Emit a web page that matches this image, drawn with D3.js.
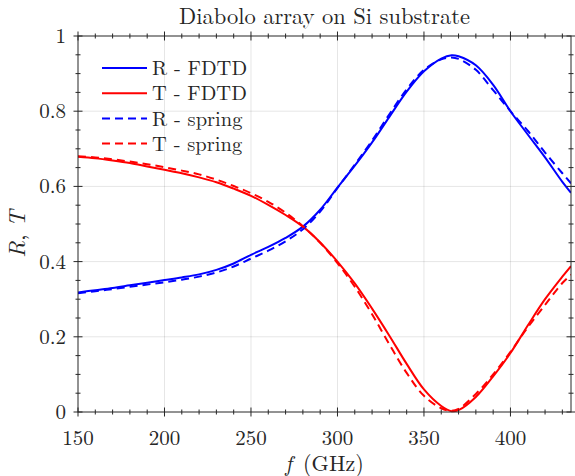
<!DOCTYPE html>
<html>
<head>
<meta charset="utf-8">
<script src="https://cdn.jsdelivr.net/npm/d3@7"></script>
<style>
  body { margin: 0; background: #fff; }
  text { font-family: "Latin Modern Roman", "CMU Serif", "Liberation Serif", serif; fill: #262626; }
  .grid line { stroke: #000; stroke-opacity: 0.1; }
  .frame { fill: none; stroke: #262626; stroke-width: 1; }
  .tick-mark { stroke: #262626; stroke-width: 1; }
</style>
</head>
<body>
<div id="container"></div>
<script>
const w = 575;
const h = 476;
const margin = { left: 78, right: 4, top: 36, bottom: 64 };

// Data
const freq    = [150, 160, 170, 180, 190, 200, 210, 220, 230, 240, 250, 260, 270, 280, 290, 300, 310, 320, 330, 340, 350, 360, 366, 370, 380, 390, 400, 410, 420, 430, 435];
const rFdtd   = [0.318, 0.324, 0.330, 0.337, 0.344, 0.351, 0.358, 0.366, 0.378, 0.395, 0.418, 0.439, 0.463, 0.493, 0.538, 0.597, 0.655, 0.717, 0.785, 0.852, 0.906, 0.940, 0.949, 0.946, 0.922, 0.870, 0.800, 0.738, 0.677, 0.612, 0.583];
const tFdtd   = [0.679, 0.675, 0.669, 0.662, 0.653, 0.644, 0.635, 0.624, 0.611, 0.594, 0.575, 0.551, 0.524, 0.493, 0.451, 0.400, 0.342, 0.275, 0.203, 0.128, 0.060, 0.016, 0.002, 0.005, 0.040, 0.095, 0.157, 0.230, 0.300, 0.360, 0.388];
const rSpring = [0.316, 0.321, 0.327, 0.333, 0.339, 0.345, 0.352, 0.360, 0.371, 0.387, 0.408, 0.429, 0.454, 0.486, 0.533, 0.596, 0.658, 0.722, 0.792, 0.858, 0.910, 0.938, 0.943, 0.939, 0.910, 0.856, 0.800, 0.748, 0.690, 0.635, 0.608];
const tSpring = [0.680, 0.677, 0.672, 0.666, 0.659, 0.651, 0.642, 0.632, 0.618, 0.601, 0.582, 0.559, 0.530, 0.494, 0.450, 0.396, 0.333, 0.260, 0.180, 0.104, 0.043, 0.010, 0.003, 0.008, 0.048, 0.100, 0.160, 0.225, 0.285, 0.343, 0.365];

const xTicks = [150, 200, 250, 300, 350, 400];
const yTicks = [0, 0.2, 0.4, 0.6, 0.8, 1];

const series = [
  { name: 'R - FDTD',   values: rFdtd,   color: '#0000ff', dash: null },
  { name: 'T - FDTD',   values: tFdtd,   color: '#ff0000', dash: null },
  { name: 'R - spring', values: rSpring, color: '#0000ff', dash: '8,5' },
  { name: 'T - spring', values: tSpring, color: '#ff0000', dash: '8,5' }
];

const svg = d3.select('#container')
              .append('svg')
              .attr('width', w)
              .attr('height', h);

const xScale = d3.scaleLinear()
                 .domain([150, 435])
                 .range([margin.left, w - margin.right]);

const yScale = d3.scaleLinear()
                 .domain([0, 1])
                 .range([h - margin.bottom, margin.top]);

const x0 = xScale.range()[0], x1 = xScale.range()[1];
const y0 = yScale.range()[0], y1 = yScale.range()[1];

// Grid
const grid = svg.append('g').attr('class', 'grid');
grid.selectAll('.gx')
    .data(xTicks.slice(1))
    .enter()
    .append('line')
    .attr('x1', d => xScale(d)).attr('x2', d => xScale(d))
    .attr('y1', y0).attr('y2', y1);
grid.selectAll('.gy')
    .data(yTicks.slice(1, -1))
    .enter()
    .append('line')
    .attr('x1', x0).attr('x2', x1)
    .attr('y1', d => yScale(d)).attr('y2', d => yScale(d));

// Curves
svg.append('clipPath')
   .attr('id', 'clip')
   .append('rect')
   .attr('x', x0).attr('y', y1 - 2)
   .attr('width', x1 - x0).attr('height', y0 - y1 + 4);

const line = d3.line()
               .x((d, i) => xScale(freq[i]))
               .y(d => yScale(d))
               .curve(d3.curveCatmullRom.alpha(0.5));

svg.append('g')
   .attr('clip-path', 'url(#clip)')
   .selectAll('path')
   .data(series)
   .enter()
   .append('path')
   .attr('d', d => line(d.values))
   .attr('fill', 'none')
   .attr('stroke', d => d.color)
   .attr('stroke-width', 2)
   .attr('stroke-dasharray', d => d.dash);

createFrame(svg);
createLabels(svg);
createLegend(svg);

function createFrame(svg) {
  const ticks = svg.append('g');
  const minorX = d3.range(150, 436, 10);
  const minorY = d3.range(0, 1.001, 0.05);

  // ticks on all four sides, drawn both in and out
  minorX.forEach(v => {
    const len = v % 50 === 0 ? 4.5 : 2.5;
    [y0, y1].forEach(yy => {
      ticks.append('line').attr('class', 'tick-mark')
           .attr('x1', xScale(v)).attr('x2', xScale(v))
           .attr('y1', yy - len).attr('y2', yy + len);
    });
  });
  minorY.forEach(v => {
    const major = Math.abs(v * 5 - Math.round(v * 5)) < 1e-6;
    const len = major ? 4.5 : 2.5;
    [x0, x1].forEach(xx => {
      ticks.append('line').attr('class', 'tick-mark')
           .attr('x1', xx - len).attr('x2', xx + len)
           .attr('y1', yScale(v)).attr('y2', yScale(v));
    });
  });

  svg.append('rect')
     .attr('class', 'frame')
     .attr('x', x0).attr('y', y1)
     .attr('width', x1 - x0).attr('height', y0 - y1);

  svg.selectAll('.xlab')
     .data(xTicks)
     .enter()
     .append('text')
     .attr('x', d => xScale(d))
     .attr('y', y0 + 33)
     .attr('text-anchor', 'middle')
     .style('font-size', '21px')
     .text(d => d);

  svg.selectAll('.ylab')
     .data(yTicks)
     .enter()
     .append('text')
     .attr('x', x0 - 12)
     .attr('y', d => yScale(d))
     .attr('dy', '0.33em')
     .attr('text-anchor', 'end')
     .style('font-size', '21px')
     .text(d => d);
}

function createLabels(svg) {
  svg.append('text')
     .attr('x', (x0 + x1) / 2)
     .attr('y', 24)
     .attr('text-anchor', 'middle')
     .style('font-size', '22.5px')
     .text('Diabolo array on Si substrate');

  const xl = svg.append('text')
                .attr('x', (x0 + x1) / 2)
                .attr('y', 471)
                .attr('text-anchor', 'middle')
                .style('font-size', '22px');
  xl.append('tspan').style('font-style', 'italic').text('f');
  xl.append('tspan').text('\u00a0(GHz)');

  const yl = svg.append('text')
                .attr('transform', `translate(25, 234) rotate(-90)`)
                .attr('text-anchor', 'middle')
                .style('font-size', '23px');
  yl.append('tspan').style('font-style', 'italic').text('R');
  yl.append('tspan').text(', ');
  yl.append('tspan').style('font-style', 'italic').text('T');
}

function createLegend(svg) {
  const legend = svg.append('g')
                    .attr('id', 'legend')
                    .selectAll('.legend-label')
                    .data(series)
                    .enter()
                    .append('g')
                    .attr('transform', (d, i) => `translate(0, ${68 + i * 25.2})`);

  legend.append('line')
        .attr('x1', 102).attr('x2', 147)
        .attr('stroke', d => d.color)
        .attr('stroke-width', 2)
        .attr('stroke-dasharray', d => d.dash);

  legend.append('text')
        .attr('x', 152)
        .attr('dy', '0.35em')
        .style('font-size', '20.5px')
        .text(d => d.name);
}
</script>
</body>
</html>
